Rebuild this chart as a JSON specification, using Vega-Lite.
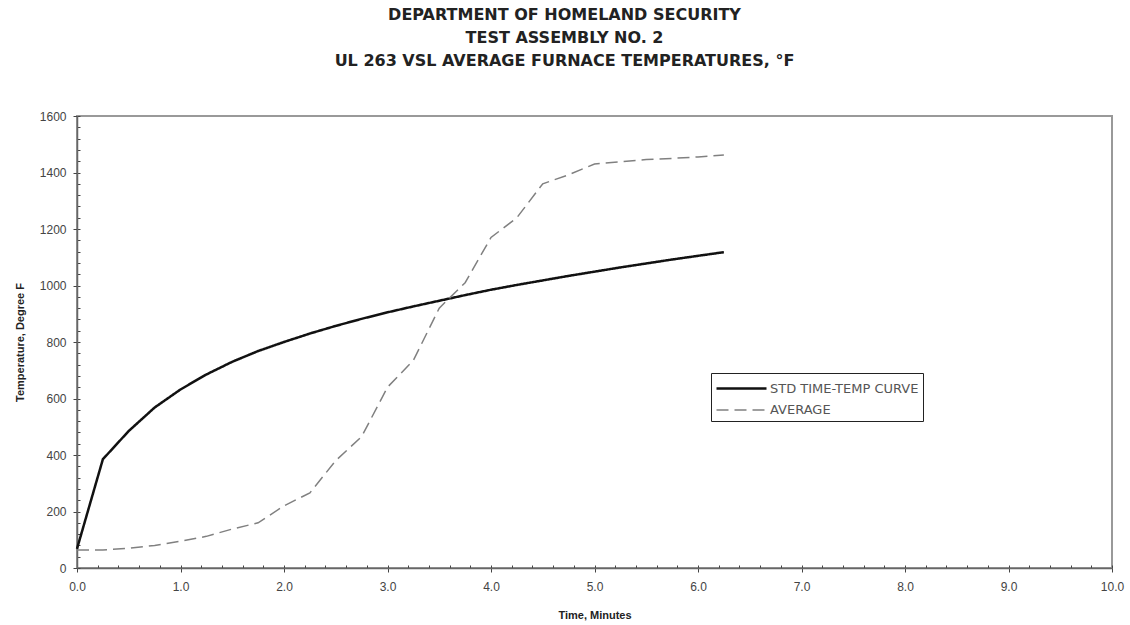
{
  "$schema": "https://vega.github.io/schema/vega-lite/v6.json",
  "autosize": "none",
  "width": 1035,
  "height": 452,
  "padding": {"left": 77, "top": 116, "right": 18, "bottom": 57},
  "background": "white",
  "title": {
    "text": ["DEPARTMENT OF HOMELAND SECURITY", "TEST ASSEMBLY NO. 2", "UL 263 VSL AVERAGE FURNACE TEMPERATURES, °F"],
    "font": "DejaVu Sans",
    "fontSize": 16,
    "fontWeight": "bold",
    "color": "#222",
    "lineHeight": 23,
    "anchor": "middle",
    "frame": "group",
    "dx": -30,
    "offset": 41
  },
  "config": {
    "view": {"stroke": "#999", "strokeWidth": 2},
    "axis": {
      "labelFont": "Liberation Sans",
      "labelFontSize": 12,
      "labelColor": "#444",
      "labelFlush": false,
      "titleFont": "Liberation Sans",
      "titleFontSize": 11,
      "titleFontWeight": "bold",
      "titleColor": "#222",
      "domainColor": "#666",
      "tickColor": "#444",
      "grid": false
    }
  },
  "data": {
    "values": [
      {"t": 0, "temp": 68, "series": "STD TIME-TEMP CURVE"},
      {"t": 0.25, "temp": 385, "series": "STD TIME-TEMP CURVE"},
      {"t": 0.5, "temp": 485, "series": "STD TIME-TEMP CURVE"},
      {"t": 0.75, "temp": 568, "series": "STD TIME-TEMP CURVE"},
      {"t": 1.0, "temp": 632, "series": "STD TIME-TEMP CURVE"},
      {"t": 1.25, "temp": 685, "series": "STD TIME-TEMP CURVE"},
      {"t": 1.5, "temp": 730, "series": "STD TIME-TEMP CURVE"},
      {"t": 1.75, "temp": 768, "series": "STD TIME-TEMP CURVE"},
      {"t": 2.0, "temp": 800, "series": "STD TIME-TEMP CURVE"},
      {"t": 2.25, "temp": 830, "series": "STD TIME-TEMP CURVE"},
      {"t": 2.5, "temp": 857, "series": "STD TIME-TEMP CURVE"},
      {"t": 2.75, "temp": 882, "series": "STD TIME-TEMP CURVE"},
      {"t": 3.0, "temp": 905, "series": "STD TIME-TEMP CURVE"},
      {"t": 3.25, "temp": 926, "series": "STD TIME-TEMP CURVE"},
      {"t": 3.5, "temp": 946, "series": "STD TIME-TEMP CURVE"},
      {"t": 3.75, "temp": 966, "series": "STD TIME-TEMP CURVE"},
      {"t": 4.0, "temp": 985, "series": "STD TIME-TEMP CURVE"},
      {"t": 4.25, "temp": 1002, "series": "STD TIME-TEMP CURVE"},
      {"t": 4.5, "temp": 1018, "series": "STD TIME-TEMP CURVE"},
      {"t": 4.75, "temp": 1034, "series": "STD TIME-TEMP CURVE"},
      {"t": 5.0, "temp": 1049, "series": "STD TIME-TEMP CURVE"},
      {"t": 5.25, "temp": 1064, "series": "STD TIME-TEMP CURVE"},
      {"t": 5.5, "temp": 1078, "series": "STD TIME-TEMP CURVE"},
      {"t": 5.75, "temp": 1092, "series": "STD TIME-TEMP CURVE"},
      {"t": 6.0, "temp": 1105, "series": "STD TIME-TEMP CURVE"},
      {"t": 6.25, "temp": 1118, "series": "STD TIME-TEMP CURVE"},
      {"t": 0, "temp": 64, "series": "AVERAGE"},
      {"t": 0.25, "temp": 64, "series": "AVERAGE"},
      {"t": 0.5, "temp": 70, "series": "AVERAGE"},
      {"t": 0.75, "temp": 80, "series": "AVERAGE"},
      {"t": 1.0, "temp": 95, "series": "AVERAGE"},
      {"t": 1.25, "temp": 112, "series": "AVERAGE"},
      {"t": 1.5, "temp": 138, "series": "AVERAGE"},
      {"t": 1.75, "temp": 160, "series": "AVERAGE"},
      {"t": 2.0, "temp": 220, "series": "AVERAGE"},
      {"t": 2.25, "temp": 266, "series": "AVERAGE"},
      {"t": 2.5, "temp": 380, "series": "AVERAGE"},
      {"t": 2.75, "temp": 465, "series": "AVERAGE"},
      {"t": 3.0, "temp": 640, "series": "AVERAGE"},
      {"t": 3.25, "temp": 735, "series": "AVERAGE"},
      {"t": 3.5, "temp": 920, "series": "AVERAGE"},
      {"t": 3.75, "temp": 1010, "series": "AVERAGE"},
      {"t": 4.0, "temp": 1170, "series": "AVERAGE"},
      {"t": 4.25, "temp": 1240, "series": "AVERAGE"},
      {"t": 4.5, "temp": 1360, "series": "AVERAGE"},
      {"t": 4.75, "temp": 1392, "series": "AVERAGE"},
      {"t": 5.0, "temp": 1430, "series": "AVERAGE"},
      {"t": 5.25, "temp": 1438, "series": "AVERAGE"},
      {"t": 5.5, "temp": 1446, "series": "AVERAGE"},
      {"t": 5.75, "temp": 1450, "series": "AVERAGE"},
      {"t": 6.0, "temp": 1455, "series": "AVERAGE"},
      {"t": 6.25, "temp": 1462, "series": "AVERAGE"}
    ]
  },
  "resolve": {"axis": {"x": "independent", "y": "independent"}},
  "layer": [
    {
      "mark": {"type": "line", "opacity": 0},
      "encoding": {
        "x": {
          "field": "t", "type": "quantitative",
          "scale": {"domain": [0, 10], "nice": false, "zero": false},
          "axis": {
            "orient": "bottom",
            "values": [0,0.2,0.4,0.6,0.8,1,1.2,1.4,1.6,1.8,2,2.2,2.4,2.6,2.8,3,3.2,3.4,3.6,3.8,4,4.2,4.4,4.6,4.8,5,5.2,5.4,5.6,5.8,6,6.2,6.4,6.6,6.8,7,7.2,7.4,7.6,7.8,8,8.2,8.4,8.6,8.8,9,9.2,9.4,9.6,9.8,10],
            "labels": false, "title": null, "domain": false, "tickSize": -3
          }
        },
        "y": {
          "field": "temp", "type": "quantitative",
          "scale": {"domain": [0, 1600], "nice": false},
          "axis": {
            "orient": "left",
            "values": [0,40,80,120,160,200,240,280,320,360,400,440,480,520,560,600,640,680,720,760,800,840,880,920,960,1000,1040,1080,1120,1160,1200,1240,1280,1320,1360,1400,1440,1480,1520,1560,1600],
            "labels": false, "title": null, "domain": false, "tickSize": -3
          }
        }
      }
    },
    {
      "mark": {"type": "line", "interpolate": "linear"},
      "encoding": {
        "x": {
          "field": "t", "type": "quantitative",
          "scale": {"domain": [0, 10], "nice": false, "zero": false},
          "axis": {
            "orient": "bottom",
            "values": [0,1,2,3,4,5,6,7,8,9,10],
            "format": ".1f",
            "title": "Time, Minutes",
            "tickSize": 4,
            "labelPadding": 9,
            "titlePadding": 17,
            "domainWidth": 1.5
          }
        },
        "y": {
          "field": "temp", "type": "quantitative",
          "scale": {"domain": [0, 1600], "nice": false},
          "axis": {
            "orient": "left",
            "values": [0,200,400,600,800,1000,1200,1400,1600],
            "format": "d",
            "title": "Temperature, Degree F",
            "tickSize": 4,
            "labelPadding": 7,
            "titlePadding": 14,
            "domainWidth": 1.5
          }
        },
        "color": {
          "field": "series", "type": "nominal",
          "scale": {"domain": ["STD TIME-TEMP CURVE", "AVERAGE"], "range": ["#111111", "#808080"]},
          "legend": {
            "title": null,
            "orient": "none",
            "legendX": 634,
            "legendY": 257,
            "strokeColor": "#222",
            "fillColor": "white",
            "padding": 4,
            "symbolType": "M-1,0H4",
            "symbolSize": 400,
            "labelFont": "DejaVu Sans",
            "labelFontSize": 13,
            "labelColor": "#555",
            "labelOffset": 32,
            "rowPadding": 3
          }
        },
        "strokeDash": {
          "field": "series", "type": "nominal",
          "scale": {"domain": ["STD TIME-TEMP CURVE", "AVERAGE"], "range": [[1, 0], [12, 6]]},
          "legend": null
        },
        "strokeWidth": {
          "field": "series", "type": "nominal",
          "scale": {"domain": ["STD TIME-TEMP CURVE", "AVERAGE"], "range": [2.5, 1.5]},
          "legend": null
        }
      }
    }
  ]
}
